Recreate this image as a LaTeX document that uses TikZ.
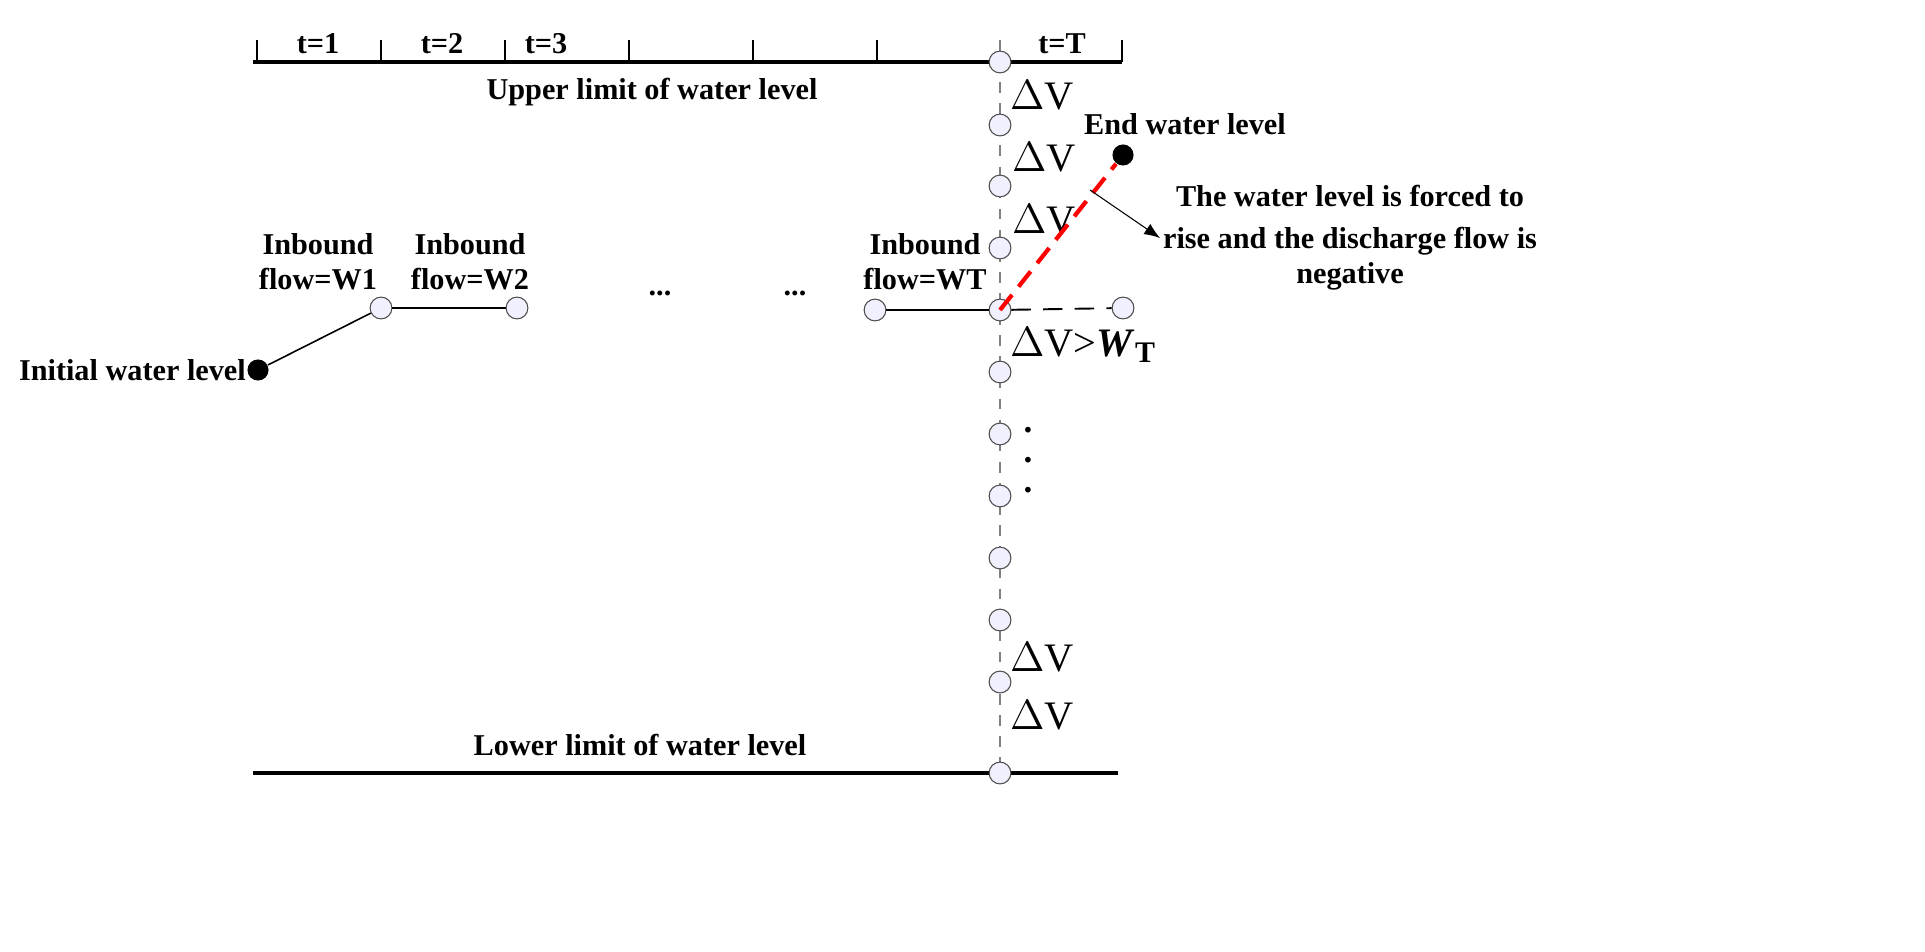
\documentclass[tikz,border=0pt]{standalone}
\usepackage{fontspec}
\setmainfont{Liberation Serif}
\usetikzlibrary{arrows.meta}
\begin{document}
\begin{tikzpicture}[x=0.01cm,y=-0.01cm,
  lbl/.style={font=\fontsize{8.6}{10}\selectfont\bfseries,align=center},
  dv/.style={font=\fontsize{11.5}{12}\selectfont,anchor=west,inner sep=1pt},
  pt/.style={circle,draw=black!70,fill=blue!6,line width=0.3pt,minimum size=6.2pt,inner sep=0pt},
  bd/.style={circle,fill=black,minimum size=6pt,inner sep=0pt},
  thick line/.style={line width=0.9pt}]
\useasboundingbox (0,0) rectangle (1925,952);
\draw[thick line] (253,62) -- (1122,62);
\foreach \x [count=\i] in {257,381,505,629,753,877,1122} \draw[line width=0.3pt] (\x,62) -- (\x,40) coordinate (tk\i);
\node[lbl] (t1) at (318,44) {t=1};
\node[lbl] (t2) at (442,44) {t=2};
\node[lbl] (t3) at (546,44) {t=3};
\node[lbl] (tT) at (1062,44) {t=T};
\draw[thick line] (253,773) -- (1118,773);
\draw[dashed,gray,line width=0.3pt] (1000,40) -- (1000,773);
\foreach \y [count=\i] in {62,125,186,248,310,372,434,496,558,620,682,773} \node[pt] (c\i) at (1000,\y) {};
\node[lbl] (up) at (652,92) {Upper limit of water level};
\node[lbl] (lo) at (640,745) {Lower limit of water level};
\node[dv] (d1) at (1006,95) {$\Delta$V};
\node[dv] (d2) at (1008,157) {$\Delta$V};
\node[dv] (d3) at (1008,219) {$\Delta$V};
\node[dv] (d4) at (1006,657) {$\Delta$V};
\node[dv] (d5) at (1006,715) {$\Delta$V};
\node[dv] (d6) at (1006,345) {$\Delta$V>\textbf{\textit{W}}\raisebox{-0.3ex}{\fontsize{8.5}{9}\selectfont\bfseries T}};
\foreach \y [count=\i] in {436,466,496} \node[font=\fontsize{10}{10}\selectfont\bfseries] (dot\i) at (1028,\y-6) {.};
\node[bd] (init) at (258,370) {};
\node[lbl,anchor=east,inner sep=1pt] (initt) at (250,370) {Initial water level};
\node[pt] (p1) at (381,308) {};
\node[pt] (p2) at (517,308) {};
\node[pt] (pT) at (875,310) {};
\node[pt] (pE) at (1123,308) {};
\draw[line width=0.45pt] (init) -- (p1);
\draw[line width=0.45pt] (p1) -- (p2);
\draw[line width=0.45pt] (pT) -- (c5);
\draw[line width=0.55pt,dash pattern=on 5.5pt off 3.5pt] (c5) -- (pE);
\node[bd] (end) at (1123,155) {};
\draw[red,line width=1.2pt,dash pattern=on 5.5pt off 3pt] (c5.center) -- (end);
\node[lbl] (w1) at (318,262) {Inbound\\flow=W1};
\node[lbl] (w2) at (470,262) {Inbound\\flow=W2};
\node[lbl] (wT) at (925,262) {Inbound\\flow=WT};
\node[lbl] (e1) at (660,293) {...};
\node[lbl] (e2) at (795,293) {...};
\node[lbl] (endt) at (1185,124) {End water level};
\node[lbl] (note) at (1350,238) {The water level is forced to\\[2pt]rise and the discharge flow is\\negative};
\coordinate (a0) at (1090,190);
\draw[-{Latex[length=4.5pt,width=3.5pt]},line width=0.3pt] (a0) -- (1160,238);
\end{tikzpicture}
\end{document}
